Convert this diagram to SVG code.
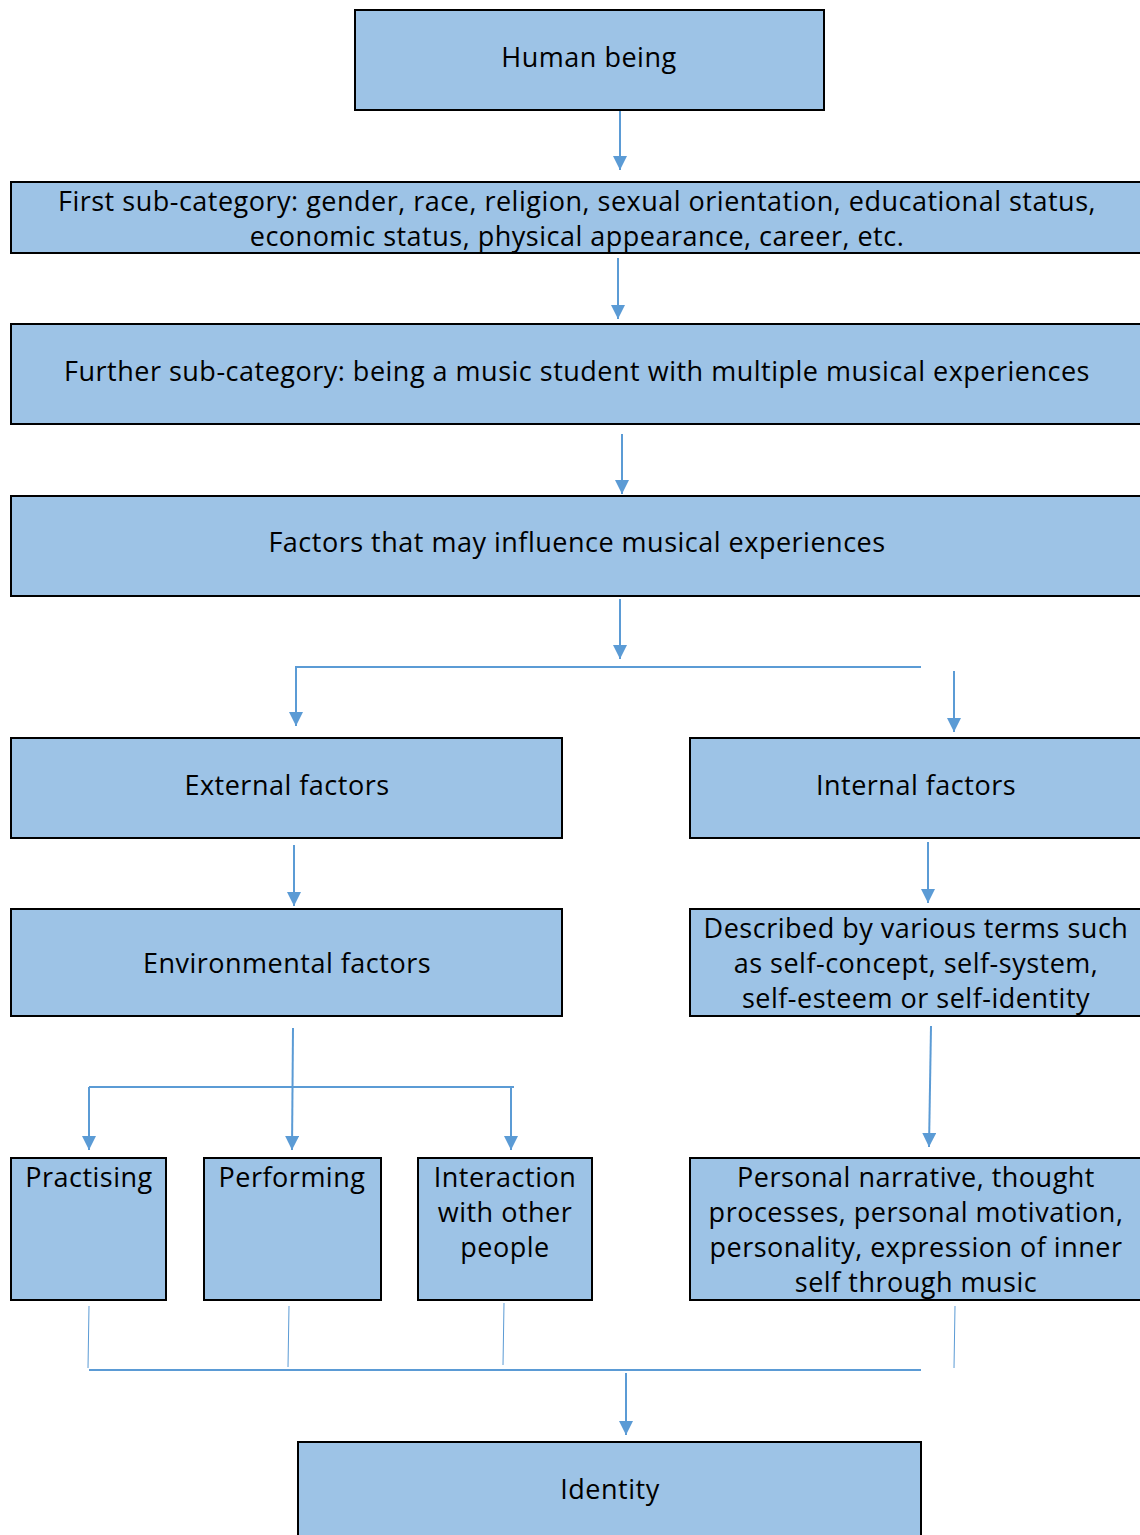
<svg xmlns="http://www.w3.org/2000/svg" width="1140" height="1535" viewBox="0 0 1140 1535">
<style>
.box{fill:#9DC3E6;stroke:#000;stroke-width:2}
.t{font-family:"Open Sans","Noto Sans",sans-serif;font-size:27px;fill:#000;text-anchor:middle;letter-spacing:0.5px}
.c{stroke:#5B9BD5;stroke-width:2;fill:none}
.thin{stroke:#5B9BD5;stroke-width:1;fill:none}
</style>
<defs>
<marker id="ah" markerUnits="userSpaceOnUse" markerWidth="14" markerHeight="14" refX="14" refY="7" orient="auto">
<path d="M0,0 L14,7 L0,14 z" fill="#5B9BD5"/>
</marker>
</defs>
<rect width="1140" height="1535" fill="#fff"/>
<g id="connectors">
<line class="c" x1="620" y1="110" x2="620" y2="170" marker-end="url(#ah)"/>
<line class="c" x1="618" y1="258" x2="618" y2="319" marker-end="url(#ah)"/>
<line class="c" x1="622" y1="434" x2="622" y2="494" marker-end="url(#ah)"/>
<line class="c" x1="620" y1="599" x2="620" y2="659" marker-end="url(#ah)"/>
<line class="c" x1="297" y1="667" x2="921" y2="667"/>
<line class="c" x1="296" y1="666" x2="296" y2="726" marker-end="url(#ah)"/>
<line class="c" x1="954" y1="671" x2="954" y2="732" marker-end="url(#ah)"/>
<line class="c" x1="294" y1="845" x2="294" y2="906" marker-end="url(#ah)"/>
<line class="c" x1="928" y1="842" x2="928" y2="903" marker-end="url(#ah)"/>
<line class="c" x1="293" y1="1028" x2="292" y2="1150" marker-end="url(#ah)"/>
<line class="c" x1="89" y1="1087" x2="514" y2="1087"/>
<line class="c" x1="89" y1="1087" x2="89" y2="1150" marker-end="url(#ah)"/>
<line class="c" x1="511" y1="1087" x2="511" y2="1150" marker-end="url(#ah)"/>
<line class="c" x1="931" y1="1026" x2="929" y2="1147" marker-end="url(#ah)"/>
<line class="thin" x1="89" y1="1306" x2="88" y2="1368"/>
<line class="thin" x1="289" y1="1306" x2="288" y2="1367"/>
<line class="thin" x1="504" y1="1303" x2="503" y2="1365"/>
<line class="thin" x1="955" y1="1306" x2="954" y2="1368"/>
<line class="c" x1="89" y1="1370" x2="921" y2="1370"/>
<line class="c" x1="626" y1="1373" x2="626" y2="1435" marker-end="url(#ah)"/>
</g>
<g id="human">
<rect class="box" x="355" y="10" width="469" height="100"/>
<text class="t" x="589" y="67">Human being</text>
</g>
<g id="first">
<rect class="box" x="11" y="182" width="1140" height="71"/>
<text class="t" x="577" y="211">First sub-category: gender, race, religion, sexual orientation, educational status,</text>
<text class="t" x="577" y="246">economic status, physical appearance, career, etc.</text>
</g>
<g id="further">
<rect class="box" x="11" y="324" width="1140" height="100"/>
<text class="t" x="577" y="381">Further sub-category: being a music student with multiple musical experiences</text>
</g>
<g id="factors">
<rect class="box" x="11" y="496" width="1140" height="100"/>
<text class="t" x="577" y="552">Factors that may influence musical experiences</text>
</g>
<g id="external">
<rect class="box" x="11" y="738" width="551" height="100"/>
<text class="t" x="287" y="795">External factors</text>
</g>
<g id="internal">
<rect class="box" x="690" y="738" width="460" height="100"/>
<text class="t" x="916" y="795">Internal factors</text>
</g>
<g id="environmental">
<rect class="box" x="11" y="909" width="551" height="107"/>
<text class="t" x="287" y="973">Environmental factors</text>
</g>
<g id="described">
<rect class="box" x="690" y="909" width="460" height="107"/>
<text class="t" x="916" y="938">Described by various terms such</text>
<text class="t" x="916" y="973">as self-concept, self-system,</text>
<text class="t" x="916" y="1008">self-esteem or self-identity</text>
</g>
<g id="practising">
<rect class="box" x="11" y="1158" width="155" height="142"/>
<text class="t" x="89" y="1187">Practising</text>
</g>
<g id="performing">
<rect class="box" x="204" y="1158" width="177" height="142"/>
<text class="t" x="292" y="1187">Performing</text>
</g>
<g id="interaction">
<rect class="box" x="418" y="1158" width="174" height="142"/>
<text class="t" x="505" y="1187">Interaction</text>
<text class="t" x="505" y="1222">with other</text>
<text class="t" x="505" y="1257">people</text>
</g>
<g id="personal">
<rect class="box" x="690" y="1158" width="460" height="142"/>
<text class="t" x="916" y="1187">Personal narrative, thought</text>
<text class="t" x="916" y="1222">processes, personal motivation,</text>
<text class="t" x="916" y="1257">personality, expression of inner</text>
<text class="t" x="916" y="1292">self through music</text>
</g>
<g id="identity">
<rect class="box" x="298" y="1442" width="623" height="110"/>
<text class="t" x="610" y="1499">Identity</text>
</g>
</svg>
